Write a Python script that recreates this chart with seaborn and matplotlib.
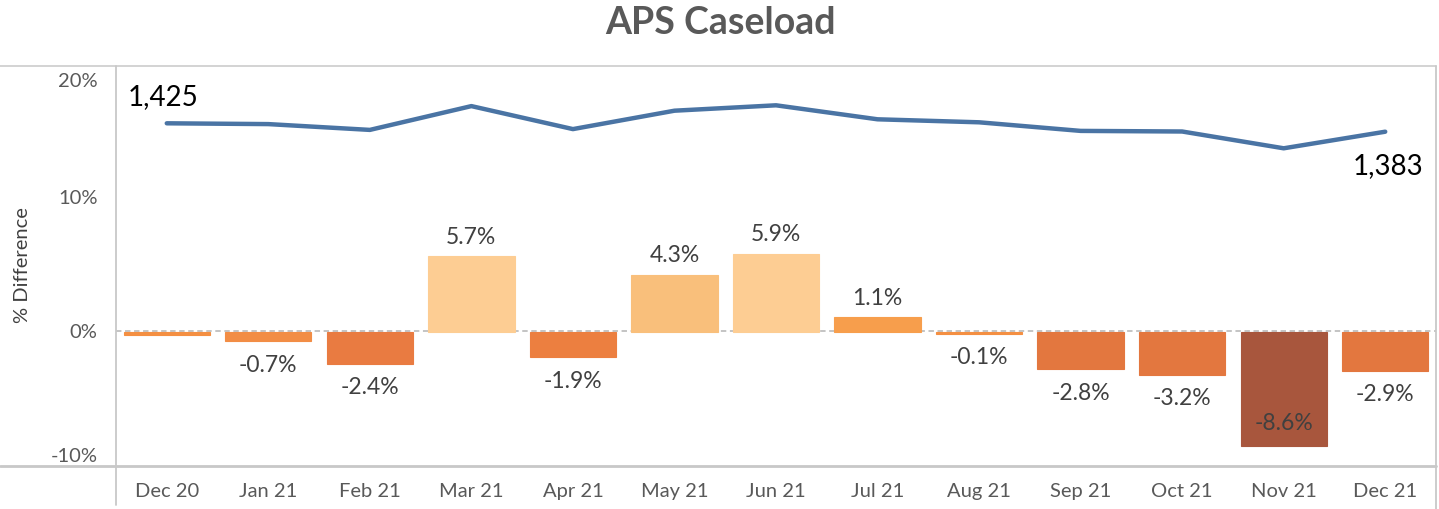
import pandas as pd
import seaborn as sns
import matplotlib.pyplot as plt
from matplotlib.lines import Line2D

months = ["Dec 20", "Jan 21", "Feb 21", "Mar 21", "Apr 21", "May 21", "Jun 21",
          "Jul 21", "Aug 21", "Sep 21", "Oct 21", "Nov 21", "Dec 21"]
pct_diff = [-0.2, -0.7, -2.4, 5.7, -1.9, 4.3, 5.9, 1.1, -0.14, -2.8, -3.2, -8.6, -2.9]
caseload = [1425, 1421, 1392, 1511, 1396, 1488, 1515, 1445, 1430, 1387, 1384, 1300, 1383]
bar_colors = ["#F48F42", "#F28D45", "#E97B41", "#FDCD93", "#EC7F40", "#F9BF7B", "#FDCD93",
              "#F79E4C", "#F48F42", "#E3773F", "#E3773F", "#A8563D", "#E3773F"]

df = pd.DataFrame({"month": months, "pct": pct_diff, "caseload": caseload})

sns.set_theme(style="white")
plt.rcParams['font.family'] = ['Lato', 'DejaVu Sans']

fig = plt.figure(figsize=(14.39, 5.09), dpi=100)
ax = fig.add_axes([116 / 1439, 1 - 465 / 509, 1320 / 1439, 399 / 509])

ax.axhline(0.05, color="#BFBFBF", lw=1.3, ls=(0, (3, 2)), zorder=1)
sns.barplot(data=df, x="month", y="pct", hue="month", palette=bar_colors,
            width=0.85, legend=False, ax=ax, saturation=1)
for p in ax.patches:
    p.set_zorder(3)
    p.set_edgecolor(p.get_facecolor())
    p.set_linewidth(0.8)
ax.set_ylim(-10, 20)
ax.set_xlim(-0.5, len(months) - 0.5)
ax.set_yticks([-10, 0, 10, 20])
ax.set_yticklabels([])
for v in [-10, 0, 10, 20]:
    va = "top" if v == 20 else ("bottom" if v == -10 else "center")
    ax.text(-0.68, v - 0.5 if v == 20 else v, f"{v}%", ha="right", va=va,
            fontsize=14.5, color="#595959")
ax.tick_params(axis="y", length=0)
ax.tick_params(axis="x", length=0, labelsize=14.5, labelcolor="#595959", pad=13)
ax.set_xlabel("")
ax.set_ylabel("% Difference", fontsize=14.5, color="#404040", labelpad=58)
for s in ax.spines.values():
    s.set_visible(False)

# bar labels (first month has none)
for i, v in enumerate(pct_diff):
    if i == 0:
        continue
    txt = f"{v:.1f}%"
    if v >= 0:
        ax.text(i, v + 0.65, txt, ha="center", va="bottom", fontsize=16.5, color="#404040")
    elif v < -6:
        ax.text(i, v + 0.9, txt, ha="center", va="bottom", fontsize=16.5, color="#404040")
    else:
        ax.text(i, v - 1.0, txt, ha="center", va="top", fontsize=16.5, color="#404040")

# caseload line on hidden secondary axis
ax2 = ax.twinx()
sns.lineplot(x=list(range(len(months))), y=caseload, color="#4A74A4", lw=3.2, ax=ax2)
ax2.set_ylim(-283.5, 1711.5)
ax2.set_yticks([])
ax2.set_ylabel("")
for s in ax2.spines.values():
    s.set_visible(False)
ax2.text(-0.04, caseload[0] + 130, f"{caseload[0]:,}", ha="center", va="center", fontsize=20, color="black")
ax2.text(len(months) - 1 + 0.03, caseload[-1] - 170, f"{caseload[-1]:,}", ha="center", va="center",
         fontsize=20, color="black")

# table-like borders
def fline(x0, y0, x1, y1, c="#D0D0D0", lw=1.3):
    fig.add_artist(Line2D([x0 / 1439, x1 / 1439], [1 - y0 / 509, 1 - y1 / 509],
                          color=c, lw=lw, transform=fig.transFigure))

fline(0, 66, 1436, 66)
fline(0, 465.5, 1436, 465.5, c="#C8C8C8", lw=2)
fline(116, 66, 116, 505, c="#C8C8C8")
fline(1436, 66, 1436, 509, c="#C8C8C8")

fig.text(720 / 1439, 1 - 23 / 509, "APS Caseload", ha="center", va="center",
         fontsize=27, fontweight="bold", color="#595959")

fig.savefig("out.png", dpi=100, facecolor="white")
